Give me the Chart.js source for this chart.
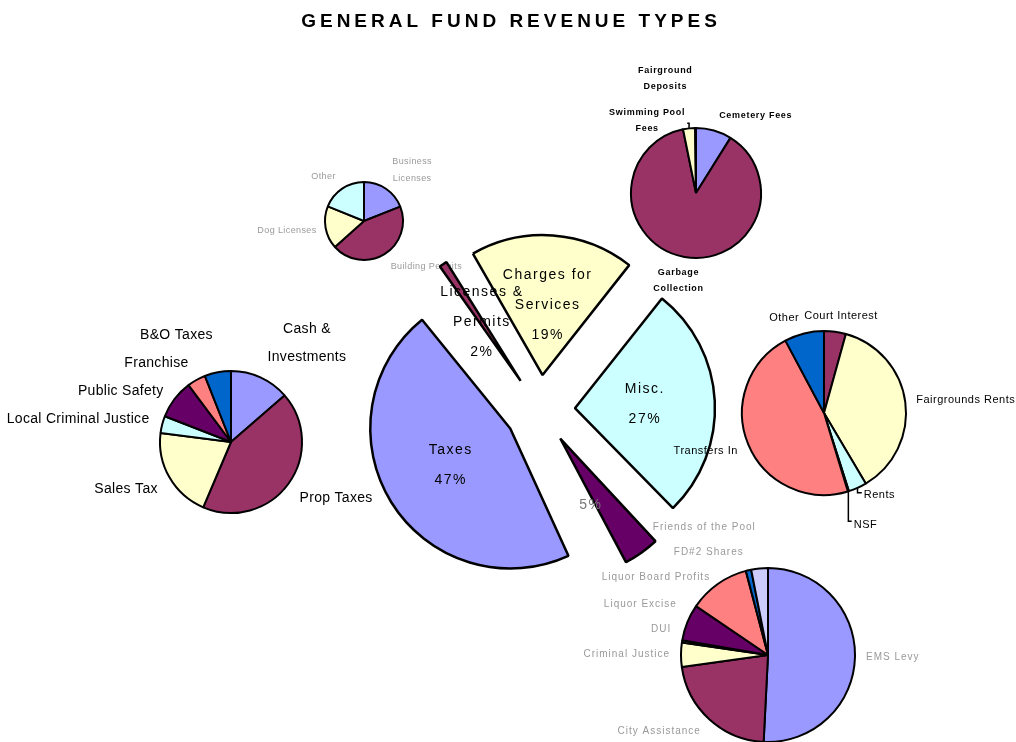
<!DOCTYPE html>
<html>
<head>
<meta charset="utf-8">
<script src="https://cdn.jsdelivr.net/npm/chart.js@4.4.1/dist/chart.umd.min.js"></script>
<style>
  html, body { margin: 0; padding: 0; background: #fff; }
  #wrap { position: relative; width: 1016px; height: 742px; }
  #wrap canvas { position: absolute; left: 0; top: 0; }
</style>
</head>
<body>
<div id="wrap">
  <canvas id="licPie" width="1016" height="742"></canvas>
  <canvas id="chgPie" width="1016" height="742"></canvas>
  <canvas id="taxPie" width="1016" height="742"></canvas>
  <canvas id="igPie" width="1016" height="742"></canvas>
  <canvas id="mainPie" width="1016" height="742"></canvas>
  <canvas id="miscPie" width="1016" height="742"></canvas>
</div>
<script>
'use strict';

// ── Datos ─────────────────────────────────────────────────────────────────────

const TITLE = 'GENERAL FUND REVENUE TYPES';

const mainCats = ['Taxes', 'Licenses &\nPermits', 'Charges for\nServices', 'Misc.', 'Intergovernmental'];
const mainVals = [47, 2, 19, 27, 5];
const hideName = ['Intergovernmental'];   // en el original solo se ve el %

const taxCats = ['Cash &\nInvestments', 'Prop Taxes', 'Sales Tax', 'Local Criminal Justice', 'Public Safety', 'Franchise', 'B&O Taxes'];
const taxVals = [13.6, 42.8, 20.6, 3.9, 8.9, 4.2, 6.0];

const licCats = ['Business\nLicenses', 'Building Permits', 'Dog Licenses', 'Other'];
const licVals = [19.0, 44.4, 17.7, 18.9];

const chgCats = ['Cemetery Fees', 'Garbage\nCollection', 'Swimming Pool\nFees', 'Fairground\nDeposits'];
const chgVals = [8.9, 87.9, 3.0, 0.2];

const miscCats = ['Court Interest', 'Fairgrounds Rents', 'Rents', 'NSF', 'Transfers In', 'Other'];
const miscVals = [4.3, 37.2, 3.6, 0.2, 46.9, 7.8];

const igCats = ['EMS Levy', 'City Assistance', 'Criminal Justice', 'DUI', 'Liquor Excise', 'Liquor Board Profits', 'FD#2 Shares', 'Friends of the Pool'];
const igVals = [50.8, 22.0, 4.5, 0.4, 6.8, 11.4, 1.0, 3.1];

// ── Estilo ────────────────────────────────────────────────────────────────────

const W = 1016, H = 742;
const FONT = '"Liberation Sans", Arial, sans-serif';
const MAIN_R = 140;
const EXPLODE = 35;

const PERIWINKLE = '#9999ff', PLUM = '#993366', IVORY = '#ffffcc', TURQ = '#ccffff';
const DPURPLE = '#660066', CORAL = '#ff8080', OCEAN = '#0066cc', ICE = '#ccccff';

const sum = arr => arr.reduce((a, b) => a + b, 0);

// Centrar el área del gráfico en (cx, cy) dentro del lienzo completo
function padFor(cx, cy) {
  return {
    left: cx > W / 2 ? 2 * cx - W : 0,
    right: cx < W / 2 ? W - 2 * cx : 0,
    top: cy > H / 2 ? 2 * cy - H : 0,
    bottom: cy < H / 2 ? H - 2 * cy : 0,
  };
}

// ── Etiquetas exteriores (tortas de detalle) ──────────────────────────────────

// empuja etiquetas solapadas: hacia arriba en la mitad superior, abajo en la inferior
function resolve(boxes, pad) {
  [b => b.dx < 0, b => b.dx >= 0].forEach(side => {
    const grp = boxes.filter(side);
    const up = grp.filter(b => b.dy < 0).sort((a, b) => b.y - a.y);
    const down = grp.filter(b => b.dy >= 0).sort((a, b) => a.y - b.y);
    for (let i = 1; i < up.length; i++) {
      const lim = up[i - 1].y - up[i - 1].h / 2 - pad - up[i].h / 2;
      if (up[i].y > lim) { up[i].y = lim; up[i].hit = up[i - 1].hit = true; }
    }
    for (let i = 1; i < down.length; i++) {
      const lim = down[i - 1].y + down[i - 1].h / 2 + pad + down[i].h / 2;
      if (down[i].y < lim) { down[i].y = lim; down[i].hit = down[i - 1].hit = true; }
    }
  });
}

function outsideLabels(o) {
  return {
    id: 'outsideLabels',
    afterDatasetsDraw(chart) {
      const ctx = chart.ctx;
      const meta = chart.getDatasetMeta(0);
      ctx.save();
      ctx.font = o.font;
      ctx.letterSpacing = o.spacing || '0px';
      const boxes = meta.data.map((arc, i) => {
        const p = arc.getProps(['x', 'y', 'startAngle', 'endAngle', 'outerRadius'], true);
        const mid = (p.startAngle + p.endAngle) / 2;
        const dx = Math.cos(mid), dy = Math.sin(mid);
        const lines = String(chart.data.labels[i]).split('\n');
        const w = Math.max(...lines.map(l => ctx.measureText(l).width));
        const h = lines.length * o.lineHeight;
        const px = p.x + dx * (p.outerRadius + o.gap);
        const py = p.y + dy * (p.outerRadius + o.gap);
        return { lines, w, h, dx, dy, px, py, y: py + dy * h / 2, hit: false,
                 ex: p.x + dx * p.outerRadius, ey: p.y + dy * p.outerRadius };
      });

      // 1ª pasada: detectar choques; las que chocan se ponen al costado del ancla
      resolve(boxes, o.pad);
      boxes.forEach(b => { b.y = b.hit ? b.py : b.py + b.dy * b.h / 2; });
      resolve(boxes, o.pad);

      boxes.forEach(b => {
        const side = b.dx < 0 ? -1 : 1;
        b.x = (b.hit || Math.abs(b.dx) > 0.2) ? b.px + side * (b.w / 2 + 3) : b.px + b.dx * b.w / 2;
      });

      ctx.fillStyle = o.color;
      ctx.strokeStyle = '#000';
      ctx.lineWidth = 1.5;
      ctx.textAlign = 'center';
      ctx.textBaseline = 'middle';
      boxes.forEach(b => {
        if (o.leaders && b.hit && Math.abs(b.y - b.py) < o.leaders) {
          const tx = Math.min(Math.max(b.ex, b.x - b.w / 2 - 2), b.x + b.w / 2 + 2);
          let ty = Math.min(Math.max(b.ey, b.y - b.h / 2 + 4), b.y + b.h / 2 - 4);
          ty = b.dy < 0 ? Math.min(ty, b.ey - 5) : Math.max(ty, b.ey + 5);
          ctx.beginPath();
          ctx.moveTo(b.ex, b.ey);
          ctx.lineTo(b.ex, ty);
          ctx.lineTo(tx, ty);
          ctx.stroke();
        }
        b.lines.forEach((l, j) => {
          ctx.fillText(l, b.x, b.y - b.h / 2 + o.lineHeight * (j + 0.5));
        });
      });
      ctx.restore();
    },
  };
}

// ── Torta principal: separación uniforme + etiquetas interiores + título ─────

// Chart.js traslada offset/4 y además agranda el radio; se compensa el radio
const explodeFix = {
  id: 'explodeFix',
  afterDatasetsUpdate(chart) {
    chart.getDatasetMeta(0).data.forEach(arc => {
      const fix = 1 - Math.sin(Math.min(Math.PI, arc.circumference || 0));
      arc.outerRadius = MAIN_R - EXPLODE * fix;
    });
  },
};

const insideLabels = {
  id: 'insideLabels',
  afterDatasetsDraw(chart) {
    const ctx = chart.ctx;
    const meta = chart.getDatasetMeta(0);
    const total = sum(mainVals);
    ctx.save();
    ctx.textAlign = 'center';
    ctx.textBaseline = 'middle';
    ctx.font = '14px ' + FONT;
    ctx.letterSpacing = '1.5px';
    meta.data.forEach((arc, i) => {
      const p = arc.getProps(['x', 'y', 'startAngle', 'endAngle'], true);
      const mid = (p.startAngle + p.endAngle) / 2;
      const d = EXPLODE + MAIN_R * 0.5;
      const x = p.x + Math.cos(mid) * d;
      const y = p.y + Math.sin(mid) * d;
      const lines = hideName.includes(mainCats[i]) ? [] : mainCats[i].split('\n');
      lines.push(Math.round(mainVals[i] / total * 100) + '%');
      ctx.fillStyle = lines.length === 1 ? '#777' : '#000';
      const dy = lines.length === 1 ? 10 : 0;
      lines.forEach((l, j) => ctx.fillText(l, x - dy, y + dy + (j - (lines.length - 1) / 2) * 30));
    });
    ctx.fillStyle = '#000';
    ctx.font = 'bold 19px ' + FONT;
    ctx.letterSpacing = '4px';
    ctx.fillText(TITLE, 511, 22);
    ctx.restore();
  },
};

// ── Constructor de tortas ─────────────────────────────────────────────────────

function makePie(id, cats, vals, colors, geo, plugins, offset = 0, border = 2) {
  return new Chart(document.getElementById(id), {
    type: 'pie',
    data: {
      labels: cats,
      datasets: [{
        data: vals,
        backgroundColor: colors,
        borderColor: '#000',
        borderWidth: border,
        offset,
        clip: false,
      }],
    },
    options: {
      responsive: false,
      animation: false,
      events: [],
      rotation: geo.rotation || 0,
      radius: geo.r,
      layout: { padding: padFor(geo.cx, geo.cy) },
      plugins: { legend: { display: false }, tooltip: { enabled: false } },
    },
    plugins,
  });
}

makePie('licPie', licCats, licVals, [PERIWINKLE, PLUM, IVORY, TURQ],
  { cx: 364, cy: 221, r: 39 },
  [outsideLabels({ font: '9px ' + FONT, color: '#9a9a9a', lineHeight: 17, gap: 6, pad: 4, spacing: '0.4px' })]);

makePie('chgPie', chgCats, chgVals, [PERIWINKLE, PLUM, IVORY, TURQ],
  { cx: 696, cy: 193, r: 65 },
  [outsideLabels({ font: 'bold 9px ' + FONT, color: '#000', lineHeight: 16, gap: 8, pad: 10, leaders: 30, spacing: '0.7px' })]);

makePie('taxPie', taxCats, taxVals, [PERIWINKLE, PLUM, IVORY, TURQ, DPURPLE, CORAL, OCEAN],
  { cx: 231, cy: 442, r: 71 },
  [outsideLabels({ font: '14px ' + FONT, color: '#000', lineHeight: 28, gap: 10, pad: 0, spacing: '0.3px' })]);

makePie('igPie', igCats, igVals, [PERIWINKLE, PLUM, IVORY, TURQ, DPURPLE, CORAL, OCEAN, ICE],
  { cx: 768, cy: 655, r: 87 },
  [outsideLabels({ font: '10px ' + FONT, color: '#999', lineHeight: 17, gap: 8, pad: 8, spacing: '1px' })]);

makePie('mainPie', mainCats, mainVals, [PERIWINKLE, PLUM, IVORY, TURQ, DPURPLE],
  { cx: 540, cy: 410, r: MAIN_R, rotation: 153.6 },
  [explodeFix, insideLabels], EXPLODE * 4, 2.5);

makePie('miscPie', miscCats, miscVals, [PLUM, IVORY, TURQ, DPURPLE, CORAL, OCEAN],
  { cx: 824, cy: 413, r: 82 },
  [outsideLabels({ font: '11px ' + FONT, color: '#000', lineHeight: 16, gap: 8, pad: 14, leaders: 60, spacing: '0.5px' })]);
</script>
</body>
</html>
